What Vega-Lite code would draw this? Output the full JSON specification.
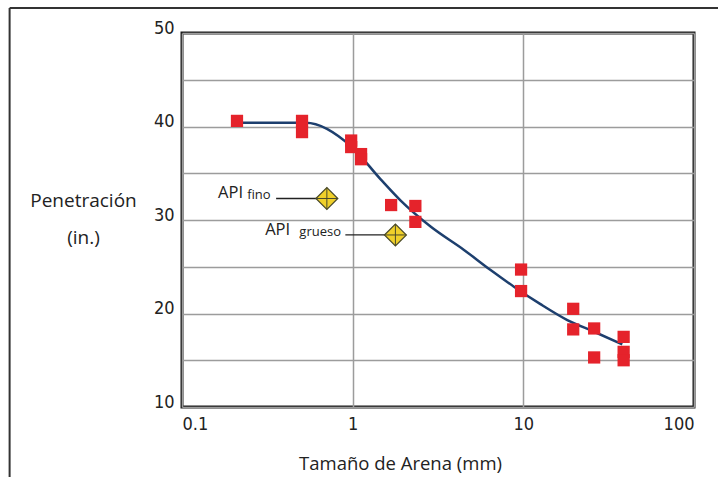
{
  "$schema": "https://vega.github.io/schema/vega-lite/v6.json",
  "width": 512,
  "height": 374,
  "autosize": {"type": "none"},
  "padding": {"left": 182, "top": 33, "right": 24, "bottom": 70},
  "background": "white",
  "config": {
    "view": {"stroke": "#1a1a1a", "strokeWidth": 3},
    "axis": {
      "domain": false,
      "ticks": false,
      "grid": true,
      "gridColor": "#9c9c9c",
      "gridWidth": 1.5,
      "labelFont": "Liberation Sans Narrow, DejaVu Sans Condensed, sans-serif",
      "labelFontSize": 18,
      "labelColor": "#222",
      "titleFont": "Open Sans, sans-serif",
      "titleFontWeight": "normal",
      "titleColor": "#222"
    }
  },
  "datasets": {
    "points": [
      {"size_mm": 0.21, "pen": 40.6},
      {"size_mm": 0.505, "pen": 40.6},
      {"size_mm": 0.505, "pen": 39.4},
      {"size_mm": 0.98, "pen": 38.5},
      {"size_mm": 0.98, "pen": 37.8},
      {"size_mm": 1.12, "pen": 37.05},
      {"size_mm": 1.12, "pen": 36.5},
      {"size_mm": 1.68, "pen": 31.6},
      {"size_mm": 2.33, "pen": 31.5},
      {"size_mm": 2.33, "pen": 29.8},
      {"size_mm": 9.7, "pen": 24.7},
      {"size_mm": 9.7, "pen": 22.4},
      {"size_mm": 19.6, "pen": 20.5},
      {"size_mm": 19.6, "pen": 18.3},
      {"size_mm": 26, "pen": 18.4},
      {"size_mm": 26, "pen": 15.3},
      {"size_mm": 38.7, "pen": 17.5},
      {"size_mm": 38.7, "pen": 15.9},
      {"size_mm": 38.7, "pen": 15.0}
    ],
    "curve": [
      {"size_mm": 0.21, "pen": 40.4},
      {"size_mm": 0.53, "pen": 40.4},
      {"size_mm": 0.99, "pen": 37.8},
      {"size_mm": 1.45, "pen": 34.4},
      {"size_mm": 1.905, "pen": 32.1},
      {"size_mm": 2.86, "pen": 29.3},
      {"size_mm": 4.49, "pen": 26.8},
      {"size_mm": 6.43, "pen": 24.65},
      {"size_mm": 8.81, "pen": 22.87},
      {"size_mm": 12.6, "pen": 21.0},
      {"size_mm": 18.1, "pen": 19.3},
      {"size_mm": 26, "pen": 18.05},
      {"size_mm": 38, "pen": 16.7}
    ],
    "api": [
      {"name": "API fino", "size_mm": 0.706, "pen": 32.3, "line_from": 0.356},
      {"name": "API grueso", "size_mm": 1.78, "pen": 28.4, "line_from": 0.906}
    ],
    "labels_main": [
      {"txt": "API", "size_mm": 0.228, "pen": 32.35},
      {"txt": "API", "size_mm": 0.43, "pen": 28.4}
    ],
    "labels_sub": [
      {"txt": "fino", "size_mm": 0.241, "pen": 32.25},
      {"txt": "grueso", "size_mm": 0.487, "pen": 28.3}
    ]
  },
  "layer": [
    {
      "data": {"name": "curve"},
      "mark": {"type": "line", "color": "#1d3f6e", "strokeWidth": 2.5, "interpolate": "monotone"},
      "encoding": {
        "x": {
          "field": "size_mm", "type": "quantitative",
          "scale": {"type": "log", "domain": [0.1, 100]},
          "axis": {
            "values": [0.1, 1, 10, 100],
            "format": "~g",
            "grid": true,
            "labelPadding": 8,
            "title": "Tamaño de Arena  (mm)",
            "titleFontSize": 18.5,
            "titleX": 218,
            "titleY": 56,
            "titleAnchor": null,
            "titleAlign": "center",
            "titleBaseline": "middle"
          }
        },
        "y": {
          "field": "pen", "type": "quantitative",
          "scale": {"domain": [10, 50]},
          "axis": {
            "values": [10, 15, 20, 25, 30, 35, 40, 45, 50],
            "labelExpr": "datum.value % 10 === 0 ? datum.label : ''",
            "grid": true,
            "labelPadding": 8,
            "labelOffset": -5,
            "title": ["Penetración", "(in.)"],
            "titleFontSize": 19,
            "titleAngle": 0,
            "titleX": -99,
            "titleY": 167,
            "titleAlign": "center",
            "titleBaseline": "middle",
            "titleLineHeight": 37
          }
        }
      }
    },
    {
      "data": {"name": "points"},
      "mark": {"type": "point", "shape": "square", "filled": true, "color": "#e5232b", "opacity": 1, "size": 150},
      "encoding": {
        "x": {"field": "size_mm", "type": "quantitative", "scale": {"type": "log", "domain": [0.1, 100]}},
        "y": {"field": "pen", "type": "quantitative", "scale": {"domain": [10, 50]}}
      }
    },
    {
      "data": {"name": "api"},
      "mark": {"type": "rule", "color": "#222", "strokeWidth": 1.3},
      "encoding": {
        "x": {"field": "line_from", "type": "quantitative", "scale": {"type": "log", "domain": [0.1, 100]}},
        "x2": {"field": "size_mm"},
        "y": {"field": "pen", "type": "quantitative", "scale": {"domain": [10, 50]}}
      }
    },
    {
      "data": {"name": "api"},
      "mark": {"type": "point", "shape": "diamond", "filled": true, "fill": "#f0d02a", "stroke": "#4a4a2a", "strokeWidth": 1.2, "opacity": 1, "size": 480},
      "encoding": {
        "x": {"field": "size_mm", "type": "quantitative", "scale": {"type": "log", "domain": [0.1, 100]}},
        "y": {"field": "pen", "type": "quantitative", "scale": {"domain": [10, 50]}}
      }
    },
    {
      "data": {"name": "api"},
      "mark": {"type": "point", "shape": "M-1,0L1,0M0,-1L0,1", "filled": false, "stroke": "#4a4a2a", "strokeWidth": 1, "opacity": 1, "size": 480},
      "encoding": {
        "x": {"field": "size_mm", "type": "quantitative", "scale": {"type": "log", "domain": [0.1, 100]}},
        "y": {"field": "pen", "type": "quantitative", "scale": {"domain": [10, 50]}}
      }
    },
    {
      "data": {"name": "labels_main"},
      "mark": {"type": "text", "align": "right", "baseline": "alphabetic", "font": "Open Sans, sans-serif", "fontSize": 16.5, "color": "#222"},
      "encoding": {
        "x": {"field": "size_mm", "type": "quantitative", "scale": {"type": "log", "domain": [0.1, 100]}},
        "y": {"field": "pen", "type": "quantitative", "scale": {"domain": [10, 50]}},
        "text": {"field": "txt"}
      }
    },
    {
      "data": {"name": "labels_sub"},
      "mark": {"type": "text", "align": "left", "baseline": "alphabetic", "font": "Open Sans, sans-serif", "fontSize": 13, "color": "#222"},
      "encoding": {
        "x": {"field": "size_mm", "type": "quantitative", "scale": {"type": "log", "domain": [0.1, 100]}},
        "y": {"field": "pen", "type": "quantitative", "scale": {"domain": [10, 50]}},
        "text": {"field": "txt"}
      }
    },
    {
      "data": {"values": [{}]},
      "mark": {"type": "rule", "color": "#333", "strokeWidth": 2},
      "encoding": {
        "y": {"datum": 52.67, "type": "quantitative", "scale": {"domain": [10, 50]}},
        "x": {"datum": 0.00977, "type": "quantitative", "scale": {"type": "log", "domain": [0.1, 100]}},
        "x2": {"datum": 1000}
      }
    },
    {
      "data": {"values": [{}]},
      "mark": {"type": "rule", "color": "#333", "strokeWidth": 2},
      "encoding": {
        "x": {"datum": 0.00977, "type": "quantitative", "scale": {"type": "log", "domain": [0.1, 100]}},
        "y": {"datum": 52.67, "type": "quantitative", "scale": {"domain": [10, 50]}},
        "y2": {"datum": 0}
      }
    }
  ]
}
